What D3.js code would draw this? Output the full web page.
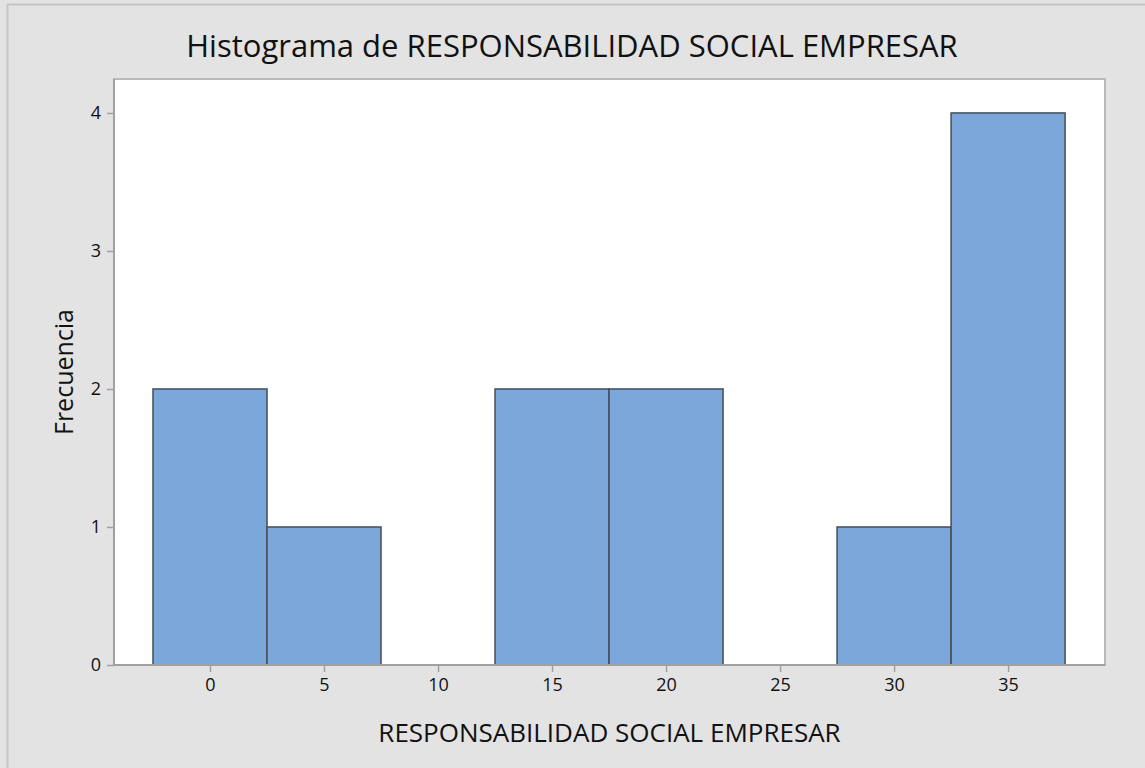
<!DOCTYPE html>
<html>
<head>
<meta charset="utf-8">
<script src="https://cdn.jsdelivr.net/npm/d3@7"></script>
<style>
  body { margin: 0; background: #e3e3e3; }
  text { font-family: "Open Sans", "Noto Sans", sans-serif; fill: #111; }
</style>
</head>
<body>
<div id="chart"></div>
<script>
// histogram bins (midpoints, width 5) and counts
var binMids = [0, 5, 10, 15, 20, 25, 30, 35];
var counts = [2, 1, 0, 2, 2, 0, 1, 4];
var binWidth = 5;
var xTicks = [0, 5, 10, 15, 20, 25, 30, 35];
var yTicks = [0, 1, 2, 3, 4];

var W = 1145, H = 768;
var plot = {left: 114, top: 79, right: 1105, bottom: 665};

var svg = d3.select("#chart").append("svg")
  .attr("width", W).attr("height", H);

svg.append("rect").attr("width", W).attr("height", H).attr("fill", "#e3e3e3");
// thin frame on left/top edge
svg.append("path").attr("d", "M7.5," + H + "V4.5H" + W)
  .attr("fill", "none").attr("stroke", "#c6c6c6").attr("stroke-width", 2);

var x = d3.scaleLinear().domain([-4.21, 39.25]).range([plot.left, plot.right]);
var y = d3.scaleLinear().domain([0, 4.246]).range([plot.bottom, plot.top]);

svg.append("rect")
  .attr("x", plot.left).attr("y", plot.top)
  .attr("width", plot.right - plot.left).attr("height", plot.bottom - plot.top)
  .attr("fill", "#fff").attr("stroke", "#b9b9b9").attr("stroke-width", 2);

var data = binMids.map(function(m, i) { return {mid: m, n: counts[i]}; });

svg.append("g").selectAll("rect").data(data).enter().append("rect")
  .attr("x", function(d) { return x(d.mid - binWidth / 2); })
  .attr("y", function(d) { return y(d.n); })
  .attr("width", function(d) { return x(d.mid + binWidth / 2) - x(d.mid - binWidth / 2); })
  .attr("height", function(d) { return y(0) - y(d.n); })
  .attr("fill", "#7ba7da")
  .attr("stroke", "#474d55")
  .attr("stroke-width", 1.5);

// axes
var xAxis = svg.append("g")
  .attr("transform", "translate(0," + plot.bottom + ")")
  .call(d3.axisBottom(x).tickValues(xTicks).tickSize(7).tickPadding(6));
var yAxis = svg.append("g")
  .attr("transform", "translate(" + plot.left + ",0)")
  .call(d3.axisLeft(y).tickValues(yTicks).tickFormat(d3.format("d")).tickSize(7).tickPadding(6));

[xAxis, yAxis].forEach(function(a) {
  a.select(".domain").remove();
  a.selectAll(".tick line").attr("stroke", "#a0a0a0").attr("stroke-width", 1.5);
  a.selectAll(".tick text").style("font-size", "18px").attr("fill", "#1a1a1a")
    .style("font-family", "'Open Sans', sans-serif");
});
// axis lines
svg.append("line").attr("x1", plot.left).attr("x2", plot.right)
  .attr("y1", plot.bottom).attr("y2", plot.bottom)
  .attr("stroke", "#a0a0a0").attr("stroke-width", 2);
svg.append("line").attr("x1", plot.left).attr("x2", plot.left)
  .attr("y1", plot.top).attr("y2", plot.bottom)
  .attr("stroke", "#a0a0a0").attr("stroke-width", 2);

svg.append("text")
  .attr("x", 572).attr("y", 57)
  .attr("text-anchor", "middle")
  .style("font-size", "31px")
  .text("Histograma de RESPONSABILIDAD SOCIAL EMPRESAR");

svg.append("text")
  .attr("x", (plot.left + plot.right) / 2).attr("y", 742)
  .attr("text-anchor", "middle")
  .style("font-size", "26px")
  .text("RESPONSABILIDAD SOCIAL EMPRESAR");

svg.append("text")
  .attr("transform", "translate(73," + ((plot.top + plot.bottom) / 2) + ") rotate(-90)")
  .attr("text-anchor", "middle")
  .style("font-size", "25px")
  .text("Frecuencia");
</script>
</body>
</html>
